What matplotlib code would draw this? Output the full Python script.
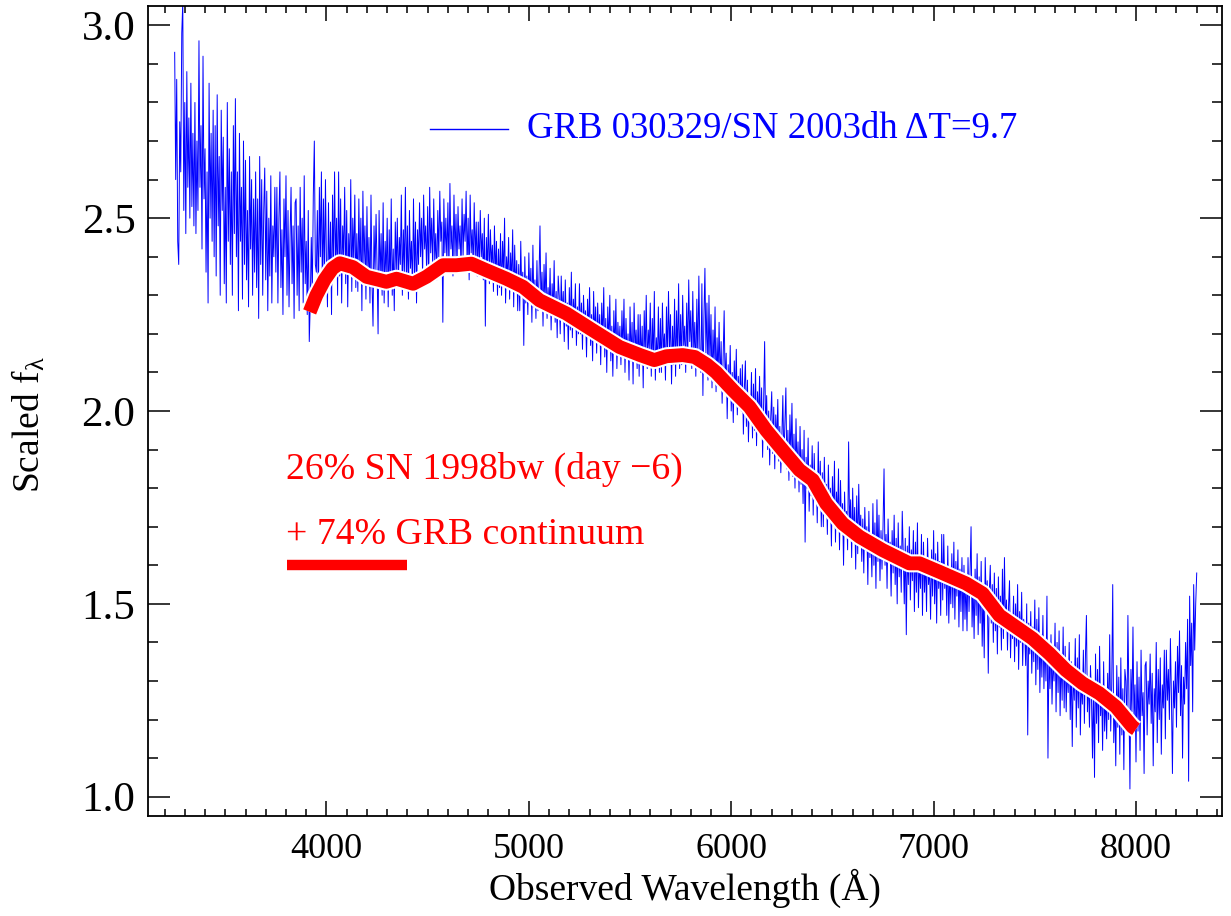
import numpy as np
import matplotlib
matplotlib.use("Agg")
import matplotlib.pyplot as plt
from matplotlib.lines import Line2D
import matplotlib.patheffects as pe

plt.rcParams["font.family"] = ["Liberation Serif", "DejaVu Serif"]
plt.rcParams["mathtext.fontset"] = "custom"
plt.rcParams["mathtext.rm"] = "Liberation Serif"
plt.rcParams["mathtext.it"] = "Liberation Serif:italic"

# observed spectrum, 5 A steps from 3250 to 8300 A (one row = 100 A)
wave_start = 3250
wave_step = 5
flux = [
    2.93, 2.60, 2.86, 2.44, 2.38, 2.75, 2.62, 2.98, 3.06, 2.52, 2.80, 2.46, 2.88, 2.58, 2.76, 2.50, 2.85, 2.53, 2.72, 2.48,
    2.80, 2.46, 2.70, 2.52, 2.96, 2.58, 2.74, 2.42, 2.92, 2.55, 2.68, 2.36, 2.62, 2.28, 2.85, 2.50, 2.72, 2.44, 2.78, 2.40,
    2.74, 2.35, 2.82, 2.48, 2.66, 2.30, 2.78, 2.52, 2.71, 2.33, 2.58, 2.28, 2.80, 2.44, 2.68, 2.38, 2.62, 2.30, 2.74, 2.46,
    2.81, 2.40, 2.62, 2.26, 2.72, 2.44, 2.58, 2.29, 2.70, 2.38, 2.65, 2.34, 2.52, 2.27, 2.66, 2.42, 2.60, 2.30, 2.55, 2.36,
    2.62, 2.32, 2.55, 2.24, 2.66, 2.38, 2.60, 2.30, 2.52, 2.63, 2.34, 2.57, 2.26, 2.50, 2.35, 2.61, 2.28, 2.48, 2.40, 2.58,
    2.36, 2.58, 2.28, 2.50, 2.62, 2.32, 2.47, 2.25, 2.55, 2.40, 2.61, 2.30, 2.52, 2.27, 2.45, 2.58, 2.33, 2.48, 2.24, 2.54,
    2.55, 2.30, 2.48, 2.26, 2.58, 2.36, 2.50, 2.28, 2.61, 2.33, 2.44, 2.25, 2.52, 2.18, 2.28, 2.45, 2.30, 2.56, 2.70, 2.38,
    2.36, 2.52, 2.28, 2.58, 2.40, 2.62, 2.30, 2.55, 2.34, 2.60, 2.38, 2.27, 2.54, 2.32, 2.49, 2.25, 2.56, 2.36, 2.62, 2.38,
    2.50, 2.30, 2.62, 2.35, 2.55, 2.28, 2.48, 2.40, 2.58, 2.33, 2.52, 2.27, 2.46, 2.36, 2.60, 2.31, 2.50, 2.38, 2.56, 2.32,
    2.46, 2.31, 2.55, 2.36, 2.50, 2.26, 2.57, 2.38, 2.48, 2.29, 2.53, 2.35, 2.45, 2.28, 2.56, 2.33, 2.22, 2.48, 2.36, 2.51,
    2.37, 2.20, 2.52, 2.34, 2.46, 2.30, 2.54, 2.28, 2.44, 2.35, 2.50, 2.27, 2.47, 2.32, 2.55, 2.30, 2.42, 2.26, 2.49, 2.36,
    2.50, 2.32, 2.45, 2.38, 2.56, 2.30, 2.47, 2.36, 2.58, 2.33, 2.48, 2.29, 2.52, 2.37, 2.44, 2.31, 2.55, 2.35, 2.49, 2.28,
    2.47, 2.38, 2.54, 2.40, 2.50, 2.35, 2.56, 2.42, 2.48, 2.36, 2.53, 2.33, 2.58, 2.41, 2.50, 2.37, 2.55, 2.39, 2.46, 2.34,
    2.52, 2.40, 2.57, 2.44, 2.49, 2.23, 2.55, 2.41, 2.50, 2.38, 2.54, 2.36, 2.59, 2.42, 2.48, 2.35, 2.56, 2.40, 2.51, 2.37,
    2.53, 2.42, 2.48, 2.36, 2.55, 2.40, 2.51, 2.44, 2.57, 2.38, 2.50, 2.34, 2.56, 2.41, 2.47, 2.37, 2.54, 2.39, 2.49, 2.35,
    2.49, 2.36, 2.52, 2.40, 2.46, 2.34, 2.50, 2.22, 2.45, 2.36, 2.51, 2.33, 2.47, 2.38, 2.43, 2.31, 2.48, 2.35, 2.44, 2.30,
    2.42, 2.32, 2.46, 2.30, 2.44, 2.35, 2.50, 2.28, 2.40, 2.34, 2.45, 2.29, 2.41, 2.33, 2.47, 2.27, 2.43, 2.31, 2.39, 2.26,
    2.38, 2.26, 2.44, 2.30, 2.36, 2.17, 2.40, 2.28, 2.35, 2.25, 2.41, 2.29, 2.37, 2.23, 2.43, 2.27, 2.34, 2.24, 2.39, 2.26,
    2.34, 2.48, 2.27, 2.36, 2.22, 2.38, 2.28, 2.41, 2.24, 2.32, 2.26, 2.37, 2.21, 2.33, 2.25, 2.39, 2.23, 2.31, 2.19, 2.35,
    2.30, 2.20, 2.35, 2.24, 2.31, 2.18, 2.34, 2.22, 2.28, 2.16, 2.32, 2.21, 2.36, 2.19, 2.29, 2.23, 2.33, 2.17, 2.27, 2.20,
    2.33, 2.20, 2.28, 2.16, 2.30, 2.22, 2.26, 2.14, 2.29, 2.20, 2.32, 2.17, 2.25, 2.13, 2.31, 2.19, 2.27, 2.15, 2.28, 2.18,
    2.25, 2.12, 2.28, 2.18, 2.32, 2.14, 2.24, 2.10, 2.27, 2.17, 2.30, 2.13, 2.22, 2.09, 2.26, 2.15, 2.29, 2.11, 2.23, 2.16,
    2.22, 2.12, 2.26, 2.15, 2.29, 2.10, 2.24, 2.14, 2.20, 2.08, 2.27, 2.13, 2.23, 2.07, 2.28, 2.16, 2.21, 2.11, 2.25, 2.09,
    2.25, 2.12, 2.22, 2.06, 2.26, 2.14, 2.30, 2.11, 2.21, 2.16, 2.28, 2.09, 2.24, 2.13, 2.31, 2.08, 2.19, 2.12, 2.27, 2.10,
    2.24, 2.10, 2.28, 2.15, 2.20, 2.08, 2.27, 2.13, 2.31, 2.16, 2.25, 2.07, 2.22, 2.12, 2.29, 2.09, 2.26, 2.14, 2.33, 2.11,
    2.25, 2.12, 2.30, 2.17, 2.22, 2.10, 2.28, 2.14, 2.34, 2.18, 2.26, 2.11, 2.31, 2.15, 2.23, 2.09, 2.29, 2.13, 2.35, 2.16,
    2.10, 2.33, 2.04, 2.24, 2.37, 2.15, 2.28, 2.08, 2.30, 2.12, 2.25, 2.06, 2.21, 2.11, 2.27, 2.05, 2.19, 2.09, 2.23, 2.07,
    2.18, 2.02, 2.14, 2.26, 2.06, 2.15, 1.98, 2.12, 2.04, 2.17, 2.00, 2.10, 1.97, 2.13, 2.03, 2.16, 1.99, 2.09, 2.01, 2.11,
    2.00, 2.12, 1.94, 2.06, 2.13, 1.96, 2.08, 1.92, 2.04, 1.98, 2.10, 1.93, 2.07, 1.95, 2.11, 1.91, 2.05, 1.97, 2.09, 1.94,
    2.06, 1.88, 2.02, 2.18, 1.94, 2.04, 1.90, 2.00, 1.86, 1.98, 2.05, 1.89, 2.01, 1.85, 1.99, 1.91, 2.03, 1.87, 1.96, 1.84,
    1.93, 2.04, 1.87, 1.97, 2.06, 1.85, 1.95, 1.82, 1.99, 1.88, 2.02, 1.83, 1.94, 1.80, 1.98, 1.84, 1.92, 1.79, 1.96, 1.81,
    1.90, 1.76, 1.95, 1.66, 1.88, 1.80, 1.93, 1.74, 1.86, 1.78, 1.91, 1.73, 1.89, 1.77, 1.84, 1.71, 1.92, 1.75, 1.87, 1.70,
    1.84, 1.70, 1.88, 1.75, 1.81, 1.68, 1.86, 1.73, 1.80, 1.65, 1.83, 1.71, 1.87, 1.66, 1.79, 1.72, 1.85, 1.64, 1.82, 1.69,
    1.76, 1.60, 1.79, 1.68, 1.74, 1.64, 1.92, 1.70, 1.77, 1.62, 1.80, 1.66, 1.75, 1.59, 1.78, 1.63, 1.81, 1.67, 1.73, 1.61,
    1.72, 1.58, 1.75, 1.64, 1.70, 1.55, 1.74, 1.62, 1.68, 1.57, 1.76, 1.60, 1.71, 1.54, 1.77, 1.61, 1.73, 1.56, 1.69, 1.59,
    1.70, 1.85, 1.60, 1.68, 1.54, 1.72, 1.61, 1.66, 1.52, 1.69, 1.58, 1.73, 1.55, 1.67, 1.50, 1.71, 1.57, 1.65, 1.53, 1.74,
    1.63, 1.50, 1.67, 1.42, 1.65, 1.55, 1.70, 1.51, 1.64, 1.56, 1.69, 1.48, 1.66, 1.53, 1.71, 1.49, 1.62, 1.54, 1.68, 1.47,
    1.66, 1.53, 1.62, 1.48, 1.67, 1.55, 1.60, 1.46, 1.64, 1.52, 1.69, 1.50, 1.63, 1.45, 1.66, 1.54, 1.61, 1.47, 1.68, 1.51,
    1.68, 1.54, 1.60, 1.47, 1.65, 1.45, 1.58, 1.50, 1.63, 1.49, 1.66, 1.46, 1.61, 1.52, 1.64, 1.44, 1.59, 1.48, 1.62, 1.43,
    1.60, 1.46, 1.56, 1.43, 1.62, 1.48, 1.58, 1.70, 1.44, 1.55, 1.41, 1.59, 1.47, 1.63, 1.42, 1.57, 1.45, 1.61, 1.39, 1.53,
    1.36, 1.62, 1.50, 1.56, 1.32, 1.53, 1.60, 1.45, 1.55, 1.40, 1.58, 1.43, 1.54, 1.37, 1.57, 1.44, 1.52, 1.38, 1.59, 1.41,
    1.62, 1.44, 1.51, 1.38, 1.49, 1.56, 1.36, 1.47, 1.41, 1.52, 1.35, 1.50, 1.39, 1.55, 1.33, 1.48, 1.40, 1.53, 1.34, 1.46,
    1.43, 1.34, 1.50, 1.16, 1.45, 1.37, 1.48, 1.32, 1.44, 1.35, 1.51, 1.29, 1.46, 1.33, 1.49, 1.27, 1.42, 1.31, 1.47, 1.28,
    1.41, 1.30, 1.52, 1.10, 1.38, 1.28, 1.42, 1.24, 1.36, 1.30, 1.45, 1.22, 1.40, 1.27, 1.43, 1.21, 1.37, 1.25, 1.44, 1.23,
    1.39, 1.22, 1.34, 1.27, 1.40, 1.20, 1.35, 1.13, 1.33, 1.25, 1.41, 1.18, 1.36, 1.23, 1.42, 1.16, 1.31, 1.24, 1.38, 1.19,
    1.36, 1.47, 1.22, 1.31, 1.18, 1.34, 1.26, 1.10, 1.30, 1.05, 1.37, 1.19, 1.33, 1.14, 1.39, 1.21, 1.29, 1.12, 1.35, 1.17,
    1.27, 1.15, 1.32, 1.20, 1.42, 1.17, 1.29, 1.55, 1.14, 1.26, 1.08, 1.34, 1.18, 1.31, 1.11, 1.36, 1.16, 1.28, 1.07, 1.33,
    1.30, 1.18, 1.47, 1.26, 1.02, 1.33, 1.22, 1.44, 1.20, 1.29, 1.09, 1.35, 1.17, 1.31, 1.12, 1.38, 1.21, 1.27, 1.06, 1.34,
    1.35, 1.16, 1.30, 1.24, 1.37, 1.19, 1.32, 1.08, 1.28, 1.22, 1.40, 1.14, 1.33, 1.20, 1.36, 1.11, 1.29, 1.23, 1.38, 1.15,
    1.38, 1.25, 1.33, 1.20, 1.41, 1.26, 1.06, 1.30, 1.23, 1.35, 1.18, 1.39, 1.27, 1.43, 1.21, 1.34, 1.10, 1.31, 1.24, 1.40,
    1.28, 1.46, 1.04, 1.52, 1.34, 1.45, 1.22, 1.55, 1.38, 1.50, 1.58,
]
wave = wave_start + wave_step * np.arange(len(flux))

# SN 1998bw + power-law continuum model
model_wave = [3917, 3950, 3990, 4030, 4066, 4131, 4198, 4260, 4296, 4346,
              4428, 4494, 4576, 4642, 4716, 4790, 4889, 4971, 5053, 5185,
              5317, 5448, 5550, 5620, 5680, 5760, 5820, 5880, 5926, 6008,
              6090, 6173, 6255, 6337, 6403, 6469, 6551, 6634, 6749, 6880,
              6930, 7029, 7160, 7242, 7325, 7407, 7489, 7572, 7654, 7736,
              7819, 7901, 7983, 8000]
model_flux = [2.257, 2.300, 2.340, 2.370, 2.383, 2.373, 2.348, 2.340, 2.335, 2.343,
              2.330, 2.348, 2.378, 2.378, 2.382, 2.365, 2.343, 2.322, 2.287, 2.253,
              2.209, 2.166, 2.145, 2.132, 2.142, 2.145, 2.140, 2.120, 2.100, 2.054,
              2.011, 1.950, 1.898, 1.847, 1.821, 1.760, 1.708, 1.674, 1.639, 1.605,
              1.605, 1.583, 1.553, 1.527, 1.470, 1.440, 1.410, 1.371, 1.328, 1.294,
              1.268, 1.233, 1.181, 1.175]

fig = plt.figure(figsize=(12.31, 9.16), dpi=100)
ax = fig.add_axes([0.1202, 0.1092, 0.8725, 0.8842])

ax.plot(wave, flux, color="#0000ff", lw=0.7)
ax.plot(model_wave, model_flux, color="#ff0000", lw=10, solid_capstyle="butt",
        path_effects=[pe.Stroke(linewidth=13, foreground="white"), pe.Normal()])

ax.set_xlim(3118, 8425)
ax.set_ylim(0.95, 3.05)
ax.set_xticks([4000, 5000, 6000, 7000, 8000])
ax.set_xticks(np.arange(3200, 8425, 100), minor=True)
ax.set_yticks([1.0, 1.5, 2.0, 2.5, 3.0])
ax.set_yticks(np.arange(1.0, 3.05, 0.1), minor=True)
ax.yaxis.set_major_formatter(matplotlib.ticker.FormatStrFormatter("%.1f"))

ax.tick_params(which="both", direction="in", top=True, right=True,
               width=1.1, color="black")
ax.tick_params(axis="x", which="major", length=11, pad=12, labelsize=26)
ax.tick_params(axis="x", which="minor", length=5)
ax.tick_params(axis="y", which="major", length=16, pad=9, labelsize=31)
ax.tick_params(axis="y", which="minor", length=7)
for s in ax.spines.values():
    s.set_linewidth(1.3)

ax.set_xlabel("Observed Wavelength (Å)", fontsize=27, labelpad=2)
ax.set_ylabel(r"Scaled f$_\mathrm{λ}$", fontsize=27)
ax.yaxis.set_label_coords(-0.093, 0.483)

# legend entry for the observed spectrum
fig.add_artist(Line2D([0.349, 0.413], [0.859, 0.859], color="#0000ff", lw=1.0))
fig.text(0.428, 0.859, "GRB 030329/SN 2003dh ΔT=9.7", color="#0000ff",
         fontsize=26.5, va="center", ha="left")

# model label
fig.text(0.232, 0.487, "26% SN 1998bw (day −6)", color="#ff0000",
         fontsize=27.2, va="center", ha="left")
fig.text(0.232, 0.416, "+ 74% GRB continuum", color="#ff0000",
         fontsize=27.2, va="center", ha="left")
fig.add_artist(Line2D([0.233, 0.331], [0.383, 0.383], color="#ff0000", lw=7.5,
                      solid_capstyle="butt"))

fig.savefig("out.png", dpi=100)
